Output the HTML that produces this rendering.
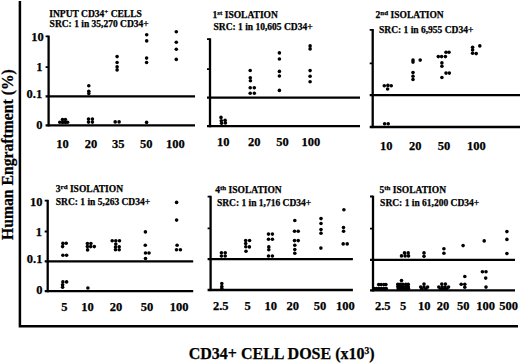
<!DOCTYPE html><html><head><meta charset="utf-8"><style>html,body{margin:0;padding:0;background:#fff;width:520px;height:363px;overflow:hidden}svg{display:block}text{font-family:"Liberation Serif",serif;font-weight:bold;fill:#000;stroke:#000;stroke-width:0.25px}</style></head><body>
<svg width="520" height="363" viewBox="0 0 520 363">
<rect width="520" height="363" fill="#fff"/>
<path d="M19.9 1 V326.2 H518" fill="none" stroke="#000" stroke-width="2.5"/>
<path d="M48.6 35.6 V126.4" fill="none" stroke="#000" stroke-width="2.3"/>
<path d="M45.6 36.4 H48.6 M45.6 67.1 H48.6" fill="none" stroke="#000" stroke-width="1.8"/>
<path d="M45.6 96.3 H195.0 M45.6 125.3 H195.0" fill="none" stroke="#000" stroke-width="2.3"/>
<path d="M210.0 38.3 V127.3" fill="none" stroke="#000" stroke-width="2.3"/>
<path d="M207.0 39.1 H210.0 M207.0 69.2 H210.0" fill="none" stroke="#000" stroke-width="1.8"/>
<path d="M207.0 97.6 H360.0 M207.0 126.2 H360.0" fill="none" stroke="#000" stroke-width="2.3"/>
<path d="M372.7 29.0 V128.1" fill="none" stroke="#000" stroke-width="2.3"/>
<path d="M369.7 29.8 H372.7 M369.7 63.4 H372.7" fill="none" stroke="#000" stroke-width="1.8"/>
<path d="M369.7 95.1 H520.0 M369.7 127.0 H520.0" fill="none" stroke="#000" stroke-width="2.3"/>
<path d="M47.7 199.8 V292.3" fill="none" stroke="#000" stroke-width="2.3"/>
<path d="M44.7 200.6 H47.7 M44.7 231.5 H47.7" fill="none" stroke="#000" stroke-width="1.8"/>
<path d="M44.7 261.4 H193.2 M44.7 291.2 H193.2" fill="none" stroke="#000" stroke-width="2.3"/>
<path d="M210.6 195.8 V291.1" fill="none" stroke="#000" stroke-width="2.3"/>
<path d="M207.6 196.6 H210.6 M207.6 228.3 H210.6" fill="none" stroke="#000" stroke-width="1.8"/>
<path d="M207.6 259.1 H352.9 M207.6 290.0 H352.9" fill="none" stroke="#000" stroke-width="2.3"/>
<path d="M373.0 195.7 V291.5" fill="none" stroke="#000" stroke-width="2.3"/>
<path d="M370.0 196.5 H373.0 M370.0 228.7 H373.0" fill="none" stroke="#000" stroke-width="1.8"/>
<path d="M370.0 259.8 H515.0 M370.0 290.4 H515.0" fill="none" stroke="#000" stroke-width="2.3"/>
<g fill="#000">
<circle cx="59.8" cy="122.2" r="1.8"/>
<circle cx="62.6" cy="122.4" r="1.8"/>
<circle cx="65.4" cy="122.4" r="1.8"/>
<circle cx="67.6" cy="122.2" r="1.8"/>
<circle cx="62.5" cy="119.5" r="1.8"/>
<circle cx="65.4" cy="119.5" r="1.8"/>
<circle cx="88.8" cy="85.8" r="1.8"/>
<circle cx="88.8" cy="91.3" r="1.8"/>
<circle cx="88.8" cy="93.6" r="1.8"/>
<circle cx="88.5" cy="119.1" r="1.8"/>
<circle cx="92.4" cy="119.1" r="1.8"/>
<circle cx="88.5" cy="122.1" r="1.8"/>
<circle cx="92.4" cy="122.1" r="1.8"/>
<circle cx="117.1" cy="56.6" r="1.8"/>
<circle cx="117.1" cy="62.5" r="1.8"/>
<circle cx="117.1" cy="66.7" r="1.8"/>
<circle cx="117.1" cy="69.9" r="1.8"/>
<circle cx="115.2" cy="121.9" r="1.8"/>
<circle cx="119.1" cy="121.9" r="1.8"/>
<circle cx="146.7" cy="34.8" r="1.8"/>
<circle cx="146.7" cy="40.9" r="1.8"/>
<circle cx="146.6" cy="58.1" r="1.8"/>
<circle cx="146.6" cy="62.5" r="1.8"/>
<circle cx="146.6" cy="122.4" r="1.8"/>
<circle cx="176.3" cy="31.8" r="1.8"/>
<circle cx="176.3" cy="42.3" r="1.8"/>
<circle cx="176.3" cy="49.3" r="1.8"/>
<circle cx="176.3" cy="59.4" r="1.8"/>
<circle cx="221.0" cy="117.4" r="1.8"/>
<circle cx="221.3" cy="120.8" r="1.8"/>
<circle cx="225.1" cy="120.2" r="1.8"/>
<circle cx="221.6" cy="123.3" r="1.8"/>
<circle cx="225.4" cy="122.9" r="1.8"/>
<circle cx="250.2" cy="70.5" r="1.8"/>
<circle cx="250.3" cy="77.8" r="1.8"/>
<circle cx="250.4" cy="80.8" r="1.8"/>
<circle cx="250.2" cy="87.7" r="1.8"/>
<circle cx="254.3" cy="87.7" r="1.8"/>
<circle cx="250.2" cy="93.2" r="1.8"/>
<circle cx="254.3" cy="93.2" r="1.8"/>
<circle cx="279.4" cy="52.9" r="1.8"/>
<circle cx="279.4" cy="59.0" r="1.8"/>
<circle cx="279.4" cy="71.4" r="1.8"/>
<circle cx="279.4" cy="76.0" r="1.8"/>
<circle cx="279.4" cy="90.4" r="1.8"/>
<circle cx="310.1" cy="45.9" r="1.8"/>
<circle cx="310.1" cy="48.9" r="1.8"/>
<circle cx="310.1" cy="70.6" r="1.8"/>
<circle cx="310.1" cy="76.2" r="1.8"/>
<circle cx="310.1" cy="81.7" r="1.8"/>
<circle cx="384.3" cy="85.7" r="1.8"/>
<circle cx="387.9" cy="85.4" r="1.8"/>
<circle cx="391.2" cy="85.7" r="1.8"/>
<circle cx="387.6" cy="89.0" r="1.8"/>
<circle cx="384.6" cy="123.8" r="1.8"/>
<circle cx="388.2" cy="123.8" r="1.8"/>
<circle cx="413.0" cy="60.1" r="1.8"/>
<circle cx="413.0" cy="62.1" r="1.8"/>
<circle cx="420.2" cy="60.1" r="1.8"/>
<circle cx="413.0" cy="72.6" r="1.8"/>
<circle cx="413.0" cy="76.2" r="1.8"/>
<circle cx="413.0" cy="79.5" r="1.8"/>
<circle cx="446.0" cy="52.2" r="1.8"/>
<circle cx="449.0" cy="52.2" r="1.8"/>
<circle cx="438.3" cy="56.6" r="1.8"/>
<circle cx="441.6" cy="56.6" r="1.8"/>
<circle cx="445.4" cy="56.6" r="1.8"/>
<circle cx="441.9" cy="62.9" r="1.8"/>
<circle cx="441.9" cy="66.2" r="1.8"/>
<circle cx="446.0" cy="73.1" r="1.8"/>
<circle cx="449.3" cy="73.1" r="1.8"/>
<circle cx="441.9" cy="77.5" r="1.8"/>
<circle cx="472.6" cy="47.2" r="1.8"/>
<circle cx="472.6" cy="49.9" r="1.8"/>
<circle cx="472.6" cy="53.3" r="1.8"/>
<circle cx="476.2" cy="53.6" r="1.8"/>
<circle cx="479.8" cy="45.9" r="1.8"/>
<circle cx="62.9" cy="243.4" r="1.8"/>
<circle cx="66.2" cy="243.3" r="1.8"/>
<circle cx="62.6" cy="246.6" r="1.8"/>
<circle cx="62.9" cy="255.2" r="1.8"/>
<circle cx="66.6" cy="255.2" r="1.8"/>
<circle cx="62.9" cy="281.9" r="1.8"/>
<circle cx="66.6" cy="281.9" r="1.8"/>
<circle cx="62.6" cy="284.8" r="1.8"/>
<circle cx="62.6" cy="287.3" r="1.8"/>
<circle cx="87.4" cy="243.5" r="1.8"/>
<circle cx="90.9" cy="243.5" r="1.8"/>
<circle cx="87.4" cy="246.6" r="1.8"/>
<circle cx="90.7" cy="246.6" r="1.8"/>
<circle cx="94.3" cy="246.6" r="1.8"/>
<circle cx="87.6" cy="249.9" r="1.8"/>
<circle cx="87.9" cy="288.0" r="1.8"/>
<circle cx="112.2" cy="240.8" r="1.8"/>
<circle cx="115.8" cy="240.8" r="1.8"/>
<circle cx="119.5" cy="240.8" r="1.8"/>
<circle cx="115.8" cy="244.1" r="1.8"/>
<circle cx="115.5" cy="247.1" r="1.8"/>
<circle cx="119.2" cy="246.8" r="1.8"/>
<circle cx="115.5" cy="249.8" r="1.8"/>
<circle cx="119.2" cy="249.8" r="1.8"/>
<circle cx="145.4" cy="231.9" r="1.8"/>
<circle cx="145.3" cy="245.3" r="1.8"/>
<circle cx="145.5" cy="253.0" r="1.8"/>
<circle cx="149.0" cy="253.0" r="1.8"/>
<circle cx="145.5" cy="258.5" r="1.8"/>
<circle cx="176.6" cy="202.4" r="1.8"/>
<circle cx="176.6" cy="220.1" r="1.8"/>
<circle cx="177.1" cy="245.2" r="1.8"/>
<circle cx="176.5" cy="249.7" r="1.8"/>
<circle cx="180.4" cy="249.7" r="1.8"/>
<circle cx="221.4" cy="252.7" r="1.8"/>
<circle cx="225.2" cy="252.7" r="1.8"/>
<circle cx="221.4" cy="256.0" r="1.8"/>
<circle cx="225.2" cy="256.0" r="1.8"/>
<circle cx="221.8" cy="283.5" r="1.8"/>
<circle cx="221.8" cy="286.6" r="1.8"/>
<circle cx="221.8" cy="288.5" r="1.8"/>
<circle cx="245.7" cy="240.5" r="1.8"/>
<circle cx="249.6" cy="240.5" r="1.8"/>
<circle cx="245.7" cy="243.6" r="1.8"/>
<circle cx="245.8" cy="246.8" r="1.8"/>
<circle cx="249.4" cy="246.9" r="1.8"/>
<circle cx="246.0" cy="251.3" r="1.8"/>
<circle cx="268.5" cy="234.1" r="1.8"/>
<circle cx="272.4" cy="234.1" r="1.8"/>
<circle cx="268.5" cy="239.2" r="1.8"/>
<circle cx="272.4" cy="239.2" r="1.8"/>
<circle cx="268.8" cy="246.9" r="1.8"/>
<circle cx="268.8" cy="249.7" r="1.8"/>
<circle cx="268.5" cy="256.0" r="1.8"/>
<circle cx="272.4" cy="256.0" r="1.8"/>
<circle cx="294.8" cy="220.5" r="1.8"/>
<circle cx="294.5" cy="231.2" r="1.8"/>
<circle cx="298.2" cy="231.2" r="1.8"/>
<circle cx="294.5" cy="240.6" r="1.8"/>
<circle cx="298.2" cy="240.6" r="1.8"/>
<circle cx="294.8" cy="245.3" r="1.8"/>
<circle cx="294.8" cy="249.5" r="1.8"/>
<circle cx="294.8" cy="253.2" r="1.8"/>
<circle cx="321.0" cy="218.6" r="1.8"/>
<circle cx="321.0" cy="223.5" r="1.8"/>
<circle cx="321.0" cy="229.6" r="1.8"/>
<circle cx="321.0" cy="233.2" r="1.8"/>
<circle cx="320.9" cy="248.1" r="1.8"/>
<circle cx="343.9" cy="209.7" r="1.8"/>
<circle cx="343.5" cy="227.5" r="1.8"/>
<circle cx="343.6" cy="231.3" r="1.8"/>
<circle cx="343.2" cy="243.9" r="1.8"/>
<circle cx="347.2" cy="243.9" r="1.8"/>
<circle cx="374.1" cy="288.6" r="1.8"/>
<circle cx="376.5" cy="288.6" r="1.8"/>
<circle cx="379.0" cy="288.6" r="1.8"/>
<circle cx="381.4" cy="288.6" r="1.8"/>
<circle cx="383.8" cy="288.6" r="1.8"/>
<circle cx="386.2" cy="288.6" r="1.8"/>
<circle cx="378.7" cy="284.6" r="1.8"/>
<circle cx="381.1" cy="284.6" r="1.8"/>
<circle cx="383.8" cy="284.6" r="1.8"/>
<circle cx="385.9" cy="284.6" r="1.8"/>
<circle cx="401.5" cy="280.6" r="1.8"/>
<circle cx="397.8" cy="284.2" r="1.8"/>
<circle cx="400.3" cy="284.2" r="1.8"/>
<circle cx="402.7" cy="284.2" r="1.8"/>
<circle cx="405.7" cy="284.2" r="1.8"/>
<circle cx="408.2" cy="284.2" r="1.8"/>
<circle cx="397.8" cy="286.6" r="1.8"/>
<circle cx="400.3" cy="286.6" r="1.8"/>
<circle cx="402.7" cy="286.6" r="1.8"/>
<circle cx="405.7" cy="286.6" r="1.8"/>
<circle cx="408.2" cy="286.6" r="1.8"/>
<circle cx="398.3" cy="288.6" r="1.8"/>
<circle cx="401.0" cy="288.6" r="1.8"/>
<circle cx="403.6" cy="288.6" r="1.8"/>
<circle cx="406.0" cy="288.6" r="1.8"/>
<circle cx="408.5" cy="288.6" r="1.8"/>
<circle cx="404.5" cy="252.9" r="1.8"/>
<circle cx="408.2" cy="252.9" r="1.8"/>
<circle cx="401.5" cy="255.9" r="1.8"/>
<circle cx="405.1" cy="255.9" r="1.8"/>
<circle cx="408.5" cy="255.9" r="1.8"/>
<circle cx="424.0" cy="252.9" r="1.8"/>
<circle cx="424.0" cy="256.2" r="1.8"/>
<circle cx="424.0" cy="284.1" r="1.8"/>
<circle cx="420.7" cy="287.1" r="1.8"/>
<circle cx="424.0" cy="287.1" r="1.8"/>
<circle cx="427.6" cy="287.1" r="1.8"/>
<circle cx="421.9" cy="289.0" r="1.8"/>
<circle cx="425.8" cy="289.0" r="1.8"/>
<circle cx="443.9" cy="248.8" r="1.8"/>
<circle cx="443.9" cy="253.3" r="1.8"/>
<circle cx="441.8" cy="284.1" r="1.8"/>
<circle cx="445.4" cy="284.1" r="1.8"/>
<circle cx="438.8" cy="287.1" r="1.8"/>
<circle cx="442.1" cy="287.1" r="1.8"/>
<circle cx="445.1" cy="287.1" r="1.8"/>
<circle cx="448.5" cy="287.1" r="1.8"/>
<circle cx="440.6" cy="289.0" r="1.8"/>
<circle cx="443.6" cy="289.0" r="1.8"/>
<circle cx="446.6" cy="289.0" r="1.8"/>
<circle cx="463.1" cy="245.6" r="1.8"/>
<circle cx="464.8" cy="276.5" r="1.8"/>
<circle cx="461.2" cy="284.3" r="1.8"/>
<circle cx="464.8" cy="284.3" r="1.8"/>
<circle cx="464.8" cy="287.3" r="1.8"/>
<circle cx="484.2" cy="240.9" r="1.8"/>
<circle cx="482.4" cy="271.8" r="1.8"/>
<circle cx="486.0" cy="271.8" r="1.8"/>
<circle cx="485.7" cy="278.1" r="1.8"/>
<circle cx="486.0" cy="287.1" r="1.8"/>
<circle cx="506.9" cy="231.6" r="1.8"/>
<circle cx="506.9" cy="239.4" r="1.8"/>
<circle cx="506.9" cy="253.5" r="1.8"/>
</g>
<text x="49.3" y="16.6" font-size="9.5"><tspan>INPUT CD34</tspan><tspan font-size="7" dy="-3.1">+</tspan><tspan dy="3.1">​</tspan><tspan> CELLS</tspan></text>
<text x="49.6" y="27.3" font-size="9.5">SRC: 1 in 35,270 CD34+</text>
<text x="212.5" y="18.4" font-size="9.5"><tspan>1</tspan><tspan font-size="7" dy="-3.1">st</tspan><tspan dy="3.1">​</tspan><tspan> ISOLATION</tspan></text>
<text x="213.5" y="29.5" font-size="9.5">SRC: 1 in 10,605 CD34+</text>
<text x="375.6" y="17.9" font-size="9.5"><tspan>2</tspan><tspan font-size="7" dy="-3.1">nd</tspan><tspan dy="3.1">​</tspan><tspan> ISOLATION</tspan></text>
<text x="379.0" y="32.5" font-size="9.5">SRC: 1 in 6,955 CD34+</text>
<text x="55.8" y="192.3" font-size="9.5"><tspan>3</tspan><tspan font-size="7" dy="-3.1">rd</tspan><tspan dy="3.1">​</tspan><tspan> ISOLATION</tspan></text>
<text x="55.8" y="205.2" font-size="9.5">SRC: 1 in 5,263 CD34+</text>
<text x="215.2" y="193.0" font-size="9.5"><tspan>4</tspan><tspan font-size="7" dy="-3.1">th</tspan><tspan dy="3.1">​</tspan><tspan> ISOLATION</tspan></text>
<text x="216.9" y="205.7" font-size="9.5">SRC: 1 in 1,716 CD34+</text>
<text x="379.5" y="193.0" font-size="9.5"><tspan>5</tspan><tspan font-size="7" dy="-3.1">th</tspan><tspan dy="3.1">​</tspan><tspan> ISOLATION</tspan></text>
<text x="380.1" y="205.7" font-size="9.5">SRC: 1 in 61,200 CD34+</text>
<text x="62.6" y="147.9" font-size="12.5" text-anchor="middle">10</text>
<text x="91.1" y="147.9" font-size="12.5" text-anchor="middle">20</text>
<text x="118.2" y="147.9" font-size="12.5" text-anchor="middle">35</text>
<text x="146.2" y="147.9" font-size="12.5" text-anchor="middle">50</text>
<text x="175.3" y="147.9" font-size="12.5" text-anchor="middle">100</text>
<text x="223.3" y="145.8" font-size="12.5" text-anchor="middle">10</text>
<text x="254.2" y="145.8" font-size="12.5" text-anchor="middle">20</text>
<text x="282.4" y="145.8" font-size="12.5" text-anchor="middle">50</text>
<text x="310.8" y="145.8" font-size="12.5" text-anchor="middle">100</text>
<text x="386.2" y="149.6" font-size="12.5" text-anchor="middle">10</text>
<text x="415.2" y="149.6" font-size="12.5" text-anchor="middle">20</text>
<text x="444.1" y="149.6" font-size="12.5" text-anchor="middle">50</text>
<text x="476.3" y="149.6" font-size="12.5" text-anchor="middle">100</text>
<text x="64.4" y="311.1" font-size="12.5" text-anchor="middle">5</text>
<text x="87.5" y="311.1" font-size="12.5" text-anchor="middle">10</text>
<text x="115.9" y="311.1" font-size="12.5" text-anchor="middle">20</text>
<text x="147.1" y="311.1" font-size="12.5" text-anchor="middle">50</text>
<text x="179.0" y="311.1" font-size="12.5" text-anchor="middle">100</text>
<text x="220.8" y="310.3" font-size="12.5" text-anchor="middle">2.5</text>
<text x="247.5" y="310.3" font-size="12.5" text-anchor="middle">5</text>
<text x="270.8" y="310.3" font-size="12.5" text-anchor="middle">10</text>
<text x="292.8" y="310.3" font-size="12.5" text-anchor="middle">20</text>
<text x="319.9" y="310.3" font-size="12.5" text-anchor="middle">50</text>
<text x="345.4" y="310.3" font-size="12.5" text-anchor="middle">100</text>
<text x="382.8" y="310.3" font-size="12.5" text-anchor="middle">2.5</text>
<text x="403.0" y="310.3" font-size="12.5" text-anchor="middle">5</text>
<text x="424.2" y="310.3" font-size="12.5" text-anchor="middle">10</text>
<text x="443.0" y="310.3" font-size="12.5" text-anchor="middle">20</text>
<text x="463.3" y="310.3" font-size="12.5" text-anchor="middle">50</text>
<text x="485.6" y="310.3" font-size="12.5" text-anchor="middle">100</text>
<text x="508.7" y="310.3" font-size="12.5" text-anchor="middle">500</text>
<text x="43.7" y="41.0" font-size="12.5" text-anchor="end">10</text>
<text x="42.4" y="71.4" font-size="12.5" text-anchor="end">1</text>
<text x="42.2" y="97.7" font-size="12.5" text-anchor="end">0.1</text>
<text x="42.6" y="129.2" font-size="12.5" text-anchor="end">0</text>
<text x="42.6" y="205.8" font-size="12.5" text-anchor="end">10</text>
<text x="42.1" y="236.4" font-size="12.5" text-anchor="end">1</text>
<text x="42.4" y="263.1" font-size="12.5" text-anchor="end">0.1</text>
<text x="42.4" y="293.7" font-size="12.5" text-anchor="end">0</text>
<text transform="translate(12.9,240) rotate(-90)" font-size="15.7">Human Engraftment (%)</text>
<text x="188.7" y="359.4" font-size="16">CD34+ CELL DOSE (x10<tspan font-size="9.5" dy="-5.5">3</tspan><tspan dy="5.5">)</tspan></text>
</svg></body></html>
